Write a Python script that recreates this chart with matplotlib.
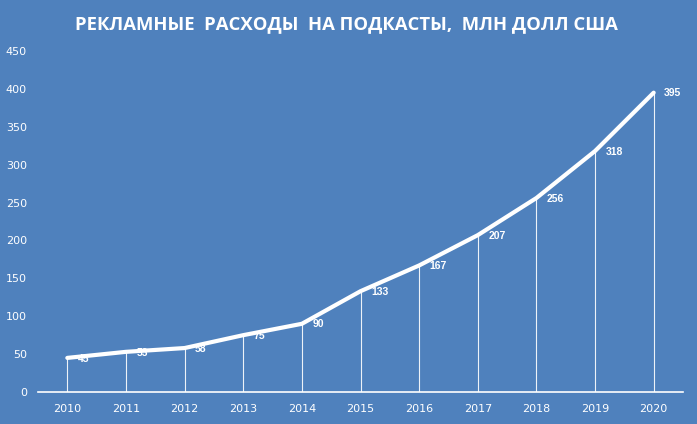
import matplotlib
matplotlib.use("Agg")
import matplotlib.pyplot as plt

years = [2010, 2011, 2012, 2013, 2014, 2015, 2016, 2017, 2018, 2019, 2020]
values = [45, 53, 58, 75, 90, 133, 167, 207, 256, 318, 395]
yticks = [0, 50, 100, 150, 200, 250, 300, 350, 400, 450]
title = "РЕКЛАМНЫЕ  РАСХОДЫ  НА ПОДКАСТЫ,  МЛН ДОЛЛ США"

bg = "#4F81BD"
fig = plt.figure(figsize=(6.97, 4.24), dpi=100, facecolor=bg)
ax = fig.add_axes([38/697, 1-392/424, (683-38)/697, (392-51)/424])
ax.set_facecolor(bg)

ax.vlines(years, 0, values, colors="white", linewidth=0.8, alpha=0.9, zorder=2)
ax.plot(years, values, color="white", linewidth=3.0, solid_capstyle="round",
        solid_joinstyle="round", zorder=3)
for x, v in zip(years, values):
    ax.annotate(str(v), (x, v), xytext=(7.5, -0.5), textcoords="offset points",
                color="white", fontsize=7.5, fontweight="bold", ha="left", va="center",
                family="Liberation Sans", zorder=4)

ax.set_xlim(2009.5, 2020.5)
ax.set_ylim(0, 450)
ax.set_xticks(years)
ax.set_xticklabels([str(y) for y in years])
ax.set_yticks(yticks)
for s in ["top", "right", "left"]:
    ax.spines[s].set_visible(False)
ax.spines["bottom"].set_color("white")
ax.spines["bottom"].set_linewidth(1.2)
ax.tick_params(axis="both", length=0, colors="white", labelsize=8)
ax.tick_params(axis="y", pad=8)
ax.tick_params(axis="x", pad=9)

fig.text(0.5 - 2/697, 1-24/424, title, color="white", fontsize=13.3, fontweight="bold",
         ha="center", va="center", family="Open Sans")

fig.savefig("out.png", dpi=100, facecolor=bg)
